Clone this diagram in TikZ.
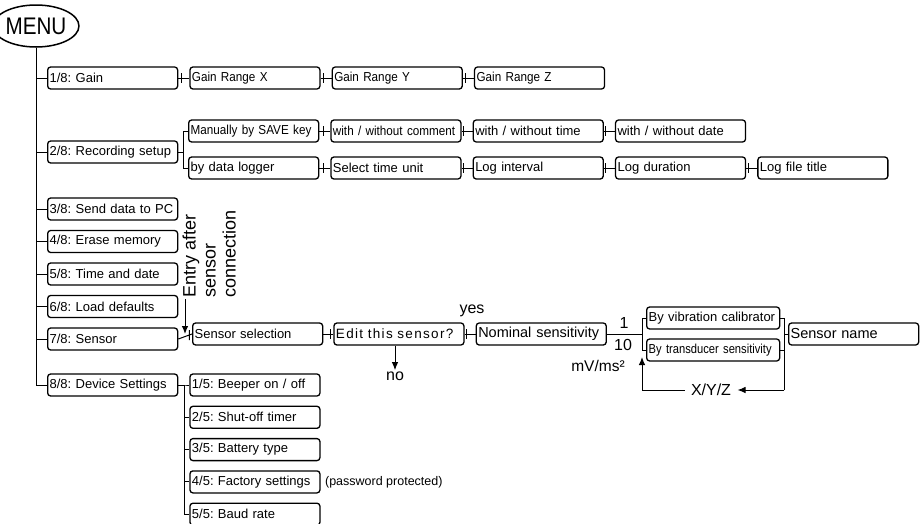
\documentclass[tikz,border=0pt]{standalone}
\usepackage{fontspec}
\setmainfont{Liberation Sans}
\newfontfamily\narrow[FakeStretch=0.9]{Liberation Sans}
\newfontfamily\tight[FakeStretch=0.86]{Liberation Sans}
\usetikzlibrary{positioning,calc,shapes.geometric,arrows.meta}
\frenchspacing

\begin{document}
\begin{tikzpicture}[x=1pt, y=-1pt, line width=1pt, node distance=11pt,
	b/.style={draw, line width=1.3pt, rounded corners=3pt, text width=126pt, inner xsep=2pt, inner ysep=0pt, minimum height=22pt, align=left, font=\fontsize{13}{15}\selectfont},
	w/.style={inner sep=1pt, font=\fontsize{16}{19}\selectfont},
	a/.style={-{Latex[length=8pt,width=6.5pt]}},
	l/.style={to path={(\tikztostart.east) -- (\tikztotarget.west) ($(\tikztostart.east)!#1!(\tikztotarget.west)$) +(0,-5) -- +(0,5)}}, l/.default=.25]
	\useasboundingbox (0,0) rectangle (924,523);

	\node[ellipse, draw, line width=1.5pt, minimum width=64pt, minimum height=42pt, inner sep=0pt, font=\tight\fontsize{24}{24}\selectfont] (menu) at (36,26) {MENU};

	% main menu
	\node[b, anchor=west] (gain) at (47,78) {1/8: Gain};
	\node[b, anchor=west] (rec) at (47,152) {2/8: Recording setup};
	\node[b, anchor=west] (send) at (47,209) {3/8: Send data to PC};
	\node[b, below=9.2pt of send] (erase) {4/8: Erase memory};
	\node[b, below=9.2pt of erase] (date) {5/8: Time and date};
	\node[b, below=9.2pt of date] (load) {6/8: Load defaults};
	\node[b, below=9.2pt of load] (sensor) {7/8: Sensor};
	\node[b, anchor=west] (device) at (47,385) {8/8: Device Settings};
	\foreach \n in {gain,rec,send,erase,date,load,sensor,device}
		\draw (menu.south) |- (\n.west);

	% gain
	\node[b, right=of gain] (gx) {{\narrow Gain Range X}};
	\node[b, right=of gx] (gy) {{\narrow Gain Range Y}};
	\node[b, right=of gy] (gz) {{\narrow Gain Range Z}};
	\path (gain) edge[l] (gx);
	\path (gx) edge[l] (gy);
	\path (gy) edge[l] (gz);

	% recording
	\node[b, anchor=west] (man) at (188,131) {{\narrow Manually by SAVE key}};
	\node[b, right=of man] (wcom) {{\narrow with / without comment}};
	\node[b, right=of wcom] (wtime) {with / without time};
	\node[b, right=of wtime] (wdate) {with / without date};
	\node[b, anchor=west] (logger) at (188,168) {by data logger};
	\node[b, right=of logger] (unit) {Select time unit};
	\node[b, right=of unit] (intv) {Log interval};
	\node[b, right=of intv] (dur) {Log duration};
	\node[b, right=of dur] (ftitle) {Log file title};
	\draw (rec.east) -- ++(6,0);
	\draw (man.west) -- ++(-5,0) |- (logger.west);
	\path (man) edge[l=.4] (wcom);
	\path (wcom) edge[l=.2] (wtime);
	\path (wtime) edge[l=.15] (wdate);
	\path (logger) edge[l=.4] (unit);
	\path (unit) edge[l=.2] (intv);
	\path (intv) edge[l=.15] (dur);
	\path (dur) edge[l=.2] (ftitle);

	% sensor
	\node[rotate=90, anchor=north west, align=left, inner sep=0pt, font=\fontsize{18}{20}\selectfont] (entry) at (182,298) {Entry after\\sensor\\connection};
	\node[b, anchor=west] (sel) at (192,334) {Sensor selection};
	\node[b, right=10pt of sel, font=\fontsize{13.5}{15}\selectfont\addfontfeature{LetterSpace=10}] (edit) {Edit this sensor?};
	\node[b, right=of edit, font=\fontsize{14.5}{16}\selectfont] (nom) {Nominal sensitivity};
	\node[b, anchor=west, text width=129pt] (vib) at (646,318) {By vibration calibrator};
	\node[b, anchor=west, text width=129pt] (trans) at (646,350) {{\tight By transducer sensitivity}};
	\node[b, anchor=west, font=\fontsize{14.5}{16}\selectfont] (sname) at (788,334) {Sensor name};
	\path (sensor) edge[l=.8] (sel);
	\path (sel) edge[l=.7] (edit);
	\path (edit) edge[l=.2] (nom);
	\coordinate (src) at (185,299);
	\coordinate (in) at (185,334);
	\draw[a] (src) -- (in);

	\node[w] (yes) at (472,311) {yes};
	\node[w] (no) at (395,376) {no};
	\draw[a] (edit.south -| no) -- (no);
	\node[w] (one) at (624,323) {1};
	\node[w] (ten) at (623,345) {10};
	\node[w, font=\fontsize{15.5}{18}\selectfont] (unitlabel) at (598,366) {mV/ms²};

	\coordinate[left=4pt of vib.west] (vl);
	\coordinate[left=4pt of trans.west] (tl);
	\coordinate[right=4pt of vib.east] (vr);
	\coordinate[below=7pt of tl] (up);
	\draw (vib.west) -- (vl) -- (tl) -- (trans.west);
	\draw (nom.east) -- (nom.east -| vl);
	\node[w, inner sep=6pt] (xyz) at (711,390) {X/Y/Z};
	\coordinate (lp) at (vr |- xyz);
	\draw (vib.east) -- (vr) -- (lp);
	\draw (trans.east) -- (trans.east -| vr);
	\draw (sname.west) -- (sname.west -| vr);
	\draw[a] (lp) -- (xyz);
	\draw[a] (xyz) -| (up);

	% device settings
	\node[b, right=of device] (beep) {1/5: Beeper on / off};
	\node[b, below=9pt of beep] (shut) {2/5: Shut-off timer};
	\node[b, below=9pt of shut] (batt) {3/5: Battery type};
	\node[b, below=9pt of batt] (fact) {4/5: Factory settings};
	\node[b, below=9pt of fact] (baud) {5/5: Baud rate};
	\node[right=3pt of fact, inner sep=1pt, font=\fontsize{12.5}{14}\selectfont] (pw) {(password protected)};
	\foreach \n in {beep,shut,batt,fact,baud}
		\draw (device.east) -- ++(6,0) |- (\n.west);
\end{tikzpicture}
\end{document}
